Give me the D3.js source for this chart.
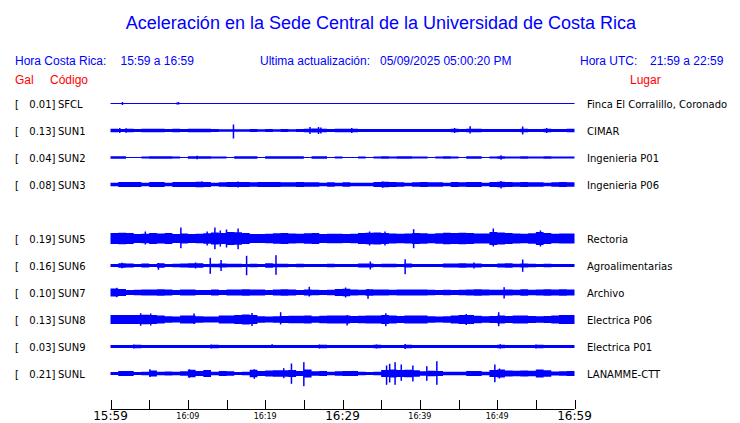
<!DOCTYPE html>
<html><head><meta charset="utf-8">
<script src="https://cdn.jsdelivr.net/npm/d3@7"></script>
<style>body{margin:0;background:#fff}svg{display:block}</style>
</head><body>
<svg id="c" width="740" height="423"></svg>
<script>
// ---- data ----
const codes = ["SFCL","SUN1","SUN2","SUN3","SUN5","SUN6","SUN7","SUN8","SUN9","SUNL"];
const slots = [0,1,2,3,5,6,7,8,9,10];
const gal = [0.01,0.13,0.04,0.08,0.19,0.16,0.10,0.13,0.03,0.21];
const places = ["Finca El Corralillo, Coronado","CIMAR","Ingenieria P01","Ingenieria P06","Rectoria","Agroalimentarias","Archivo","Electrica P06","Electrica P01","LANAMME-CTT"];
// per-minute half-amplitude envelope (relative units), 60 minutes from 15:59
const envSFCL = Array.from({length:60},()=>0.5);
const envSUN1 = [1.8,1.6,1.8,1.6,1.8,1.8,1.8,1.4,1.8,1.6,1.8,1.8,1.8,1.4,1.3,1.3,1.3,1.3,1.4,1.3,1.4,1.3,1.4,1.3,1.4,1.8,2.0,1.8,1.4,1.8,1.8,1.8,1.5,1.5,1.4,1.5,1.6,1.5,1.4,1.4,1.4,1.4,1.4,1.5,1.8,1.6,1.8,1.7,1.5,1.4,1.4,1.4,1.5,1.8,1.4,1.6,1.8,1.5,1.4,1.8];
const envSUN2 = [1.2,1.2,0.6,0.6,1.0,1.2,1.2,1.2,0.9,0.6,1.2,1.3,1.2,0.9,0.9,0.6,1.2,1.2,1.2,0.6,1.2,1.2,1.2,1.2,1.2,0.6,1.2,1.2,0.6,1.0,0.6,0.6,0.9,0.6,1.1,1.2,1.1,1.2,1.2,1.1,0.9,0.6,1.1,1.2,1.1,0.6,1.2,1.2,0.6,1.0,1.3,1.1,1.1,1.2,1.1,1.1,1.2,1.1,1.1,1.0];
const envSUN3 = [1.7,2.4,2.5,2.4,1.8,2.6,2.5,1.7,2.4,2.4,2.4,2.8,2.6,1.7,2.3,2.5,2.4,2.6,2.3,2.4,2.4,2.6,2.3,2.2,2.4,2.3,2.3,1.7,2.2,1.7,2.3,1.8,1.7,1.8,2.5,2.8,2.4,2.2,1.8,2.3,2.4,2.3,2.2,1.8,2.4,2.3,2.4,2.4,1.8,2.6,2.8,2.4,2.2,2.4,2.3,2.2,1.8,2.3,2.4,2.2];
const envSUN5 = [5.5,5.8,5.5,4.5,4.8,5.5,5.0,5.5,4.6,5.0,4.6,4.8,5.2,6.0,5.5,6.5,6.2,5.5,4.5,4.6,4.8,5.3,5.5,5.0,4.8,5.2,5.5,4.6,4.8,4.7,4.6,4.8,5.5,5.8,6.0,5.5,5.0,4.8,5.0,5.5,5.2,4.8,5.2,5.8,5.5,5.8,5.5,5.0,5.0,6.5,6.0,5.5,5.0,4.8,5.2,6.5,5.5,4.8,5.0,5.0];
const envSUN6 = [1.6,2.2,2.0,1.6,2.0,1.6,2.2,1.6,1.7,1.9,2.2,2.2,1.6,1.8,2.0,1.8,1.8,1.6,1.8,1.6,2.2,1.8,1.8,1.6,1.8,1.6,1.6,1.6,1.8,1.6,1.6,1.6,2.0,1.9,1.6,1.8,1.8,1.6,1.9,1.6,1.6,1.6,1.6,2.0,2.0,2.3,2.0,2.0,1.6,1.6,2.0,2.2,1.8,2.0,1.8,1.6,1.8,1.6,1.6,1.6];
const envSUN7 = [3.9,3.5,2.6,2.8,3.1,3.0,3.2,3.0,2.6,3.1,3.1,2.6,2.6,3.0,2.6,3.0,3.1,3.2,3.0,3.0,2.6,3.1,3.2,3.0,2.6,3.1,2.7,2.6,2.7,3.5,3.7,3.0,2.8,3.2,3.1,3.0,2.7,3.1,3.0,3.1,3.1,2.8,2.6,2.7,2.6,2.8,3.1,3.2,3.0,2.7,2.8,3.0,2.7,3.2,2.8,3.1,3.2,3.1,3.2,3.1];
const envSUN8 = [4.6,4.6,4.4,4.6,4.8,4.6,4.1,3.2,3.0,3.9,4.0,3.2,3.0,3.1,4.1,4.1,4.6,5.0,4.6,3.2,3.1,3.2,3.5,3.7,3.7,3.9,3.2,3.7,4.1,4.0,4.1,3.5,3.7,3.9,4.1,4.6,3.9,3.5,4.1,4.1,3.9,3.2,3.1,3.2,3.9,4.6,4.6,3.7,3.2,3.5,4.1,3.5,3.9,4.1,3.5,3.2,3.5,4.1,4.6,4.6];
const envSUN9 = [1.5,1.5,1.6,1.7,1.5,1.5,1.5,1.6,1.5,1.5,1.5,1.5,1.6,1.7,1.5,1.5,1.5,1.5,1.6,1.5,1.5,1.6,1.5,1.5,1.5,1.6,1.5,1.7,1.5,1.5,1.5,1.5,1.6,1.5,1.7,1.5,1.5,1.6,1.7,1.5,1.5,1.5,1.6,1.5,1.5,1.5,1.6,1.5,1.5,1.5,1.7,1.5,1.5,1.6,1.5,1.7,1.5,1.5,1.6,1.5];
const envSUNL = [1.6,2.5,2.4,1.6,1.8,3.0,1.8,2.0,1.8,2.2,3.8,2.4,3.5,1.8,2.6,2.2,1.6,1.8,3.8,2.6,3.0,3.2,3.2,3.5,2.5,4.0,2.2,2.5,1.8,2.2,2.4,2.6,1.8,1.6,1.8,3.5,4.0,3.5,3.8,3.2,2.2,2.8,2.5,1.8,1.8,1.8,2.5,2.5,1.8,3.5,4.0,3.0,2.8,3.0,2.8,4.0,3.2,2.0,2.2,2.5];
// spikes: [minute after 15:59, amplitude up, amplitude down]
const spkSFCL = [[1.55,1.5,1.5],[8.6,1.0,1.0],[8.8,1.5,1.0]];
const spkSUN1 = [[1.2,2.5,2.5],[2.0,2.3,2.3],[15.9,6,8],[25.8,3.5,3.5],[26.9,3.5,3.5],[27.2,3,3],[31.2,2.5,2.5],[44.5,2.5,2.5],[46.5,4.3,3],[53.3,4,4],[56.4,2.5,2.5]];
const spkSUN2 = [[11.2,1.8,1.8],[50.5,2.2,2.2]];
const spkSUN3 = [[11.8,3,2.5],[16.5,3,3],[35.2,3,3.3],[50.5,3.5,4]];
const spkSUN5 = [[4.5,7,6],[9.1,11,9.7],[12.5,7,7],[13.5,11,10.7],[14.2,8,8],[15.0,9,9],[16.5,10,10.7],[33.5,7,7],[35.5,7,7],[39.2,9.3,9.7],[49.5,10,8],[55.6,8,8]];
const spkSUN6 = [[1.5,2.8,2.8],[6.2,2.5,4.3],[11,3,3],[12.9,7.7,8.3],[14.3,5.5,5.5],[17.6,9.7,9.7],[21.4,10.3,9.3],[33.6,4,4],[38.1,6.3,8.7],[47,3,3],[53.3,6,6.3]];
const spkSUN7 = [[0.8,4.7,4.7],[25.7,5.7,4],[30.4,5,5],[33.3,3.5,6.3],[50.9,5.3,6]];
const spkSUN8 = [[3.9,6.3,6.3],[5.2,6,6],[10.8,6,4.5],[18.3,6.5,6.5],[22,7.3,5],[30.6,4.5,6],[35.6,6.3,6.7],[46,5.5,5.5],[50.2,7.3,6.7]];
const spkSUN9 = [[3,2,2],[13,2,2],[20.9,2.3,1.5],[27,2,2],[34.4,2,2],[38.1,2.5,2.5],[50.4,2.3,2],[55,2,2]];
const spkSUNL = [[5.1,4.3,3.5],[10.2,4.3,4.3],[18.6,4.3,5.3],[22.4,5.3,4.7],[23.4,10,10.3],[25,11.3,12.7],[35.7,8,11.3],[36.1,9.7,9],[36.8,11.3,11.3],[37.6,9,7.3],[39.1,8,8],[40.9,7.3,7.3],[42.2,12.3,11.3],[49.7,9,8.7],[50.3,5,5]];
const envs = [envSFCL,envSUN1,envSUN2,envSUN3,envSUN5,envSUN6,envSUN7,envSUN8,envSUN9,envSUNL];
const spikes = [spkSFCL,spkSUN1,spkSUN2,spkSUN3,spkSUN5,spkSUN6,spkSUN7,spkSUN8,spkSUN9,spkSUNL];
const tickMinutes = [0,5,10,15,20,25,30,35,40,45,50,55,60];
const tickLabels = {0:"15:59",10:"16:09",20:"16:19",30:"16:29",40:"16:39",50:"16:49",60:"16:59"};
const majorLabels = [0,30,60];
const title = "Aceleración en la Sede Central de la Universidad de Costa Rica";

// ---- drawing ----
const svg = d3.select("#c");
const BLUE = "#0000ff", RED = "#ff0000";
const t0 = new Date(2025,4,9,15,59,0);
const tm = m => new Date(t0.getTime() + m*60000);
const x = d3.scaleTime().domain([tm(0), tm(60)]).range([110.5, 574.5]);
const yRow = d3.scaleLinear().domain([0,10]).range([103.5, 373.5]);
const amp = d3.scaleLinear().domain([0,1]).range([0,1]);

svg.append("text").attr("x",381).attr("y",29).attr("text-anchor","middle")
  .attr("font-family","Liberation Sans, Arial, sans-serif").attr("font-size",18).attr("fill",BLUE).text(title);

const hdr = [["Hora Costa Rica:",15],["15:59 a 16:59",120.5],["Ultima actualización:",260],["05/09/2025 05:00:20 PM",380],["Hora UTC:",580],["21:59 a 22:59",650]];
svg.selectAll("text.h").data(hdr).join("text").attr("class","h")
  .attr("x",d=>d[1]).attr("y",65).attr("font-family","Liberation Sans, Arial, sans-serif")
  .attr("font-size",12).attr("fill",BLUE).text(d=>d[0]);
const hdr2 = [["Gal",15],["Código",50],["Lugar",630]];
svg.selectAll("text.h2").data(hdr2).join("text").attr("class","h2")
  .attr("x",d=>d[1]).attr("y",84).attr("font-family","Liberation Sans, Arial, sans-serif")
  .attr("font-size",12).attr("fill",RED).text(d=>d[0]);

const lblFont = "DejaVu Sans, sans-serif";
codes.forEach((c,i)=>{
  const cy = yRow(slots[i]);
  const g = svg.append("g");
  g.append("text").attr("x",15).attr("y",cy+4).attr("font-family",lblFont).attr("font-size",10).text("[");
  g.append("text").attr("x",55.5).attr("y",cy+4).attr("text-anchor","end").attr("font-family",lblFont).attr("font-size",10).text(gal[i].toFixed(2)+"]");
  g.append("text").attr("x",58).attr("y",cy+4).attr("font-family",lblFont).attr("font-size",10).text(c);
  g.append("text").attr("x",587).attr("y",cy+4).attr("font-family",lblFont).attr("font-size",10).text(places[i]);
  const env = envs[i];
  const pts = env.map((v,k)=>[k,v]).concat([[60, env[env.length-1]]]);
  const area = d3.area().curve(d3.curveStepAfter)
    .x(d=>x(tm(d[0]))).y0(d=>cy+amp(d[1])).y1(d=>cy-amp(d[1]));
  g.append("path").attr("d",area(pts)).attr("fill",BLUE);
  g.selectAll("rect").data(spikes[i]).join("rect")
    .attr("x",d=>x(tm(d[0]))-0.75).attr("width",1.5)
    .attr("y",d=>cy-amp(d[1])).attr("height",d=>amp(d[1])+amp(d[2]))
    .attr("fill",BLUE);
});

// axis
const ay = 409;
svg.append("line").attr("x1",x(tm(0))).attr("x2",x(tm(60))).attr("y1",ay+0.5).attr("y2",ay+0.5).attr("stroke","#000");
svg.selectAll("line.tk").data(tickMinutes).join("line").attr("class","tk")
  .attr("x1",d=>Math.round(x(tm(d)))+0.5).attr("x2",d=>Math.round(x(tm(d)))+0.5)
  .attr("y1",ay-9).attr("y2",ay).attr("stroke","#000");
svg.selectAll("text.tl").data(Object.keys(tickLabels).map(Number)).join("text").attr("class","tl")
  .attr("x",d=>x(tm(d))).attr("y",d=>majorLabels.includes(d)?420:419).attr("text-anchor","middle")
  .attr("font-family",lblFont).attr("font-size",d=>majorLabels.includes(d)?12:8)
  .text(d=>tickLabels[d]);
</script>
</body></html>
